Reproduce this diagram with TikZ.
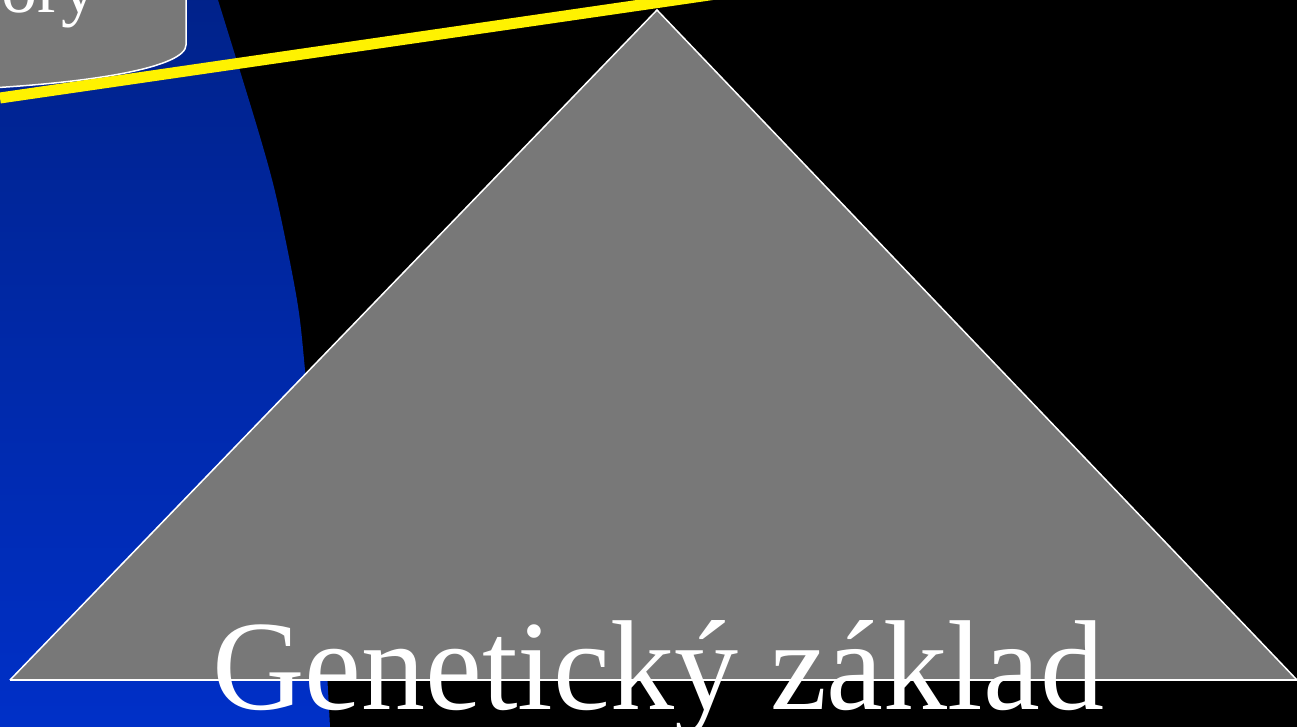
\documentclass[tikz,border=0pt]{standalone}
\usepackage{fontspec}
\setmainfont{Liberation Serif}
\usetikzlibrary{positioning, calc}

\begin{document}
\begin{tikzpicture}[
    x=1pt, y=-1pt,
    slidegray/.style={fill=gray!94!black, draw=white, line width=1.5pt},
    bigtext/.style={text=white, inner sep=0pt, font=\fontsize{128}{130}\selectfont},
    boxtext/.style={text=white, inner sep=0pt, font=\fontsize{72}{74}\selectfont}
]
    % Background and frame
    \useasboundingbox (0,0) rectangle (1297,727);
    \clip (0,0) rectangle (1297,727);
    \fill[black] (0,0) rectangle (1297,727);

    % Blue arc on the left
    \shade[top color={rgb,255:red,0;green,34;blue,138}, bottom color={rgb,255:red,0;green,48;blue,200}]
        (-5,-5) -- (216,-5)
        -- plot[smooth] coordinates {(218,0) (258,130) (277,200) (297,300) (305,370) (318,520) (330,727)}
        -- (330,732) -- (-5,732) -- cycle;

    % Box at the top left
    \draw[slidegray] (-50,-10) -- (186,-10) -- (186,45)
        .. controls (186,66) and (100,84) .. (-50,90) -- cycle;
    \node[boxtext, anchor=base east] (boxlabel) at (98,13) {ory};

    % Yellow line
    \coordinate (ylA) at (0,98);
    \coordinate (ylB) at (730,-8);
    \draw[yellow, line width=11pt] (ylA) -- (ylB);

    % Triangle
    \coordinate (apex) at (657,10);
    \coordinate (baseL) at (10,680);
    \coordinate (baseR) at (1297,680);
    \draw[slidegray, line join=miter] (baseL) -- (apex) -- (baseR);
    \draw[white, line width=1.5pt] (baseL) -- (1300,680);

    % Caption
    \node[bigtext, anchor=base] (caption) at (658,709) {Genetický základ};
\end{tikzpicture}
\end{document}
